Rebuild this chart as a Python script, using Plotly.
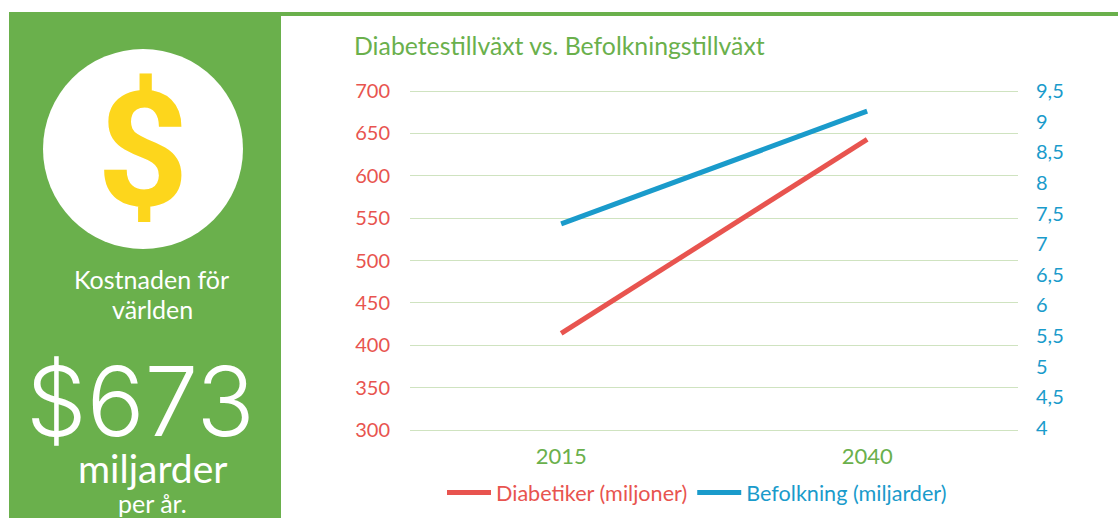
import plotly.graph_objects as go

years = ["2015", "2040"]
diabetiker = [414, 643]
befolkning = [7.33, 9.17]
left_ticks = [300, 350, 400, 450, 500, 550, 600, 650, 700]
right_ticks = [4, 4.5, 5, 5.5, 6, 6.5, 7, 7.5, 8, 8.5, 9, 9.5]
right_labels = ["4", "4,5", "5", "5,5", "6", "6,5", "7", "7,5", "8", "8,5", "9", "9,5"]

W, H = 1118, 518
L, R, T, B = 410, 1018, 86.76, 434.24
GREEN, RED, BLUE, YELLOW = "#6ab04c", "#e8544f", "#1a9bcb", "#fdd61c"
FONT = "Lato"


def px(x):
    return x / W


def py(y):
    return 1 - y / H


fig = go.Figure()
fig.add_trace(go.Scatter(x=years, y=diabetiker, mode="lines", yaxis="y",
                         name=f'<span style="color:{RED}">Diabetiker (miljoner)</span>',
                         line=dict(color=RED, width=5)))
fig.add_trace(go.Scatter(x=years, y=befolkning, mode="lines", yaxis="y2",
                         name=f'<span style="color:{BLUE}">Befolkning (miljarder)</span>',
                         line=dict(color=BLUE, width=5)))

shapes = [
    dict(type="rect", xref="paper", yref="paper", x0=px(9), x1=px(281), y0=py(518), y1=py(12),
         fillcolor=GREEN, line_width=0, layer="below"),
    dict(type="rect", xref="paper", yref="paper", x0=px(281), x1=px(1118), y0=py(16), y1=py(12),
         fillcolor=GREEN, line_width=0, layer="below"),
    dict(type="circle", xref="paper", yref="paper", x0=px(43), x1=px(243), y0=py(249), y1=py(49),
         fillcolor="white", line_width=0, layer="below"),
]


def note(text, cx, cy, size, color="white", family=FONT, weight=None):
    font = dict(size=size, color=color, family=family)
    if weight:
        font["weight"] = weight
    return dict(text=text, xref="paper", yref="paper", x=px(cx), y=py(cy), showarrow=False,
                xanchor="center", yanchor="middle", font=font)


annotations = [
    note("$", 143, 150, 160, YELLOW, "Roboto", 700),
    note("Kostnaden för", 151, 279, 25),
    note("världen", 152, 309, 25),
    note("$673", 140, 401, 96, "white", "Inter", 300),
    note("miljarder", 152, 468, 39),
    note("per år.", 152, 503, 25),
    dict(text="Diabetestillväxt vs. Befolkningstillväxt", xref="paper", yref="paper",
         x=px(352), y=py(45), showarrow=False, xanchor="left", yanchor="middle",
         font=dict(size=24.8, color=GREEN, family=FONT)),
]

fig.update_layout(
    width=W, height=H, autosize=False,
    margin=dict(l=0, r=0, t=0, b=0, pad=0),
    paper_bgcolor="white", plot_bgcolor="white",
    font=dict(family=FONT, size=20),
    shapes=shapes, annotations=annotations,
    xaxis=dict(type="category", domain=[L / W, R / W], range=[-0.494, 1.493], automargin=False,
               showgrid=False, zeroline=False, showline=False,
               ticks="outside", ticklen=2, tickcolor="rgba(0,0,0,0)",
               tickfont=dict(size=22, color=GREEN)),
    yaxis=dict(domain=[1 - B / H, 1 - T / H], range=[295, 705], tickvals=left_ticks, automargin=False,
               showgrid=True, gridcolor="#cfe3c0", gridwidth=1,
               zeroline=False, showline=False, ticks="outside", ticklen=15, tickcolor="rgba(0,0,0,0)",
               tickfont=dict(size=20, color=RED)),
    yaxis2=dict(range=[3.898, 9.569], overlaying="y", side="right", tickvals=right_ticks, ticktext=right_labels,
                automargin=False, showgrid=False, zeroline=False, showline=False, ticks="outside", ticklen=13,
                tickcolor="rgba(0,0,0,0)", tickfont=dict(size=20, color=BLUE)),
    showlegend=True,
    legend=dict(orientation="h", x=px(442), y=py(472), xanchor="left", yanchor="top",
                font=dict(size=21.6, family=FONT), itemwidth=44, bgcolor="rgba(0,0,0,0)", itemclick=False),
)

fig.write_html("out.html", config={"displayModeBar": False},
               post_script="document.body.style.margin='0';document.documentElement.style.overflow='hidden';")
